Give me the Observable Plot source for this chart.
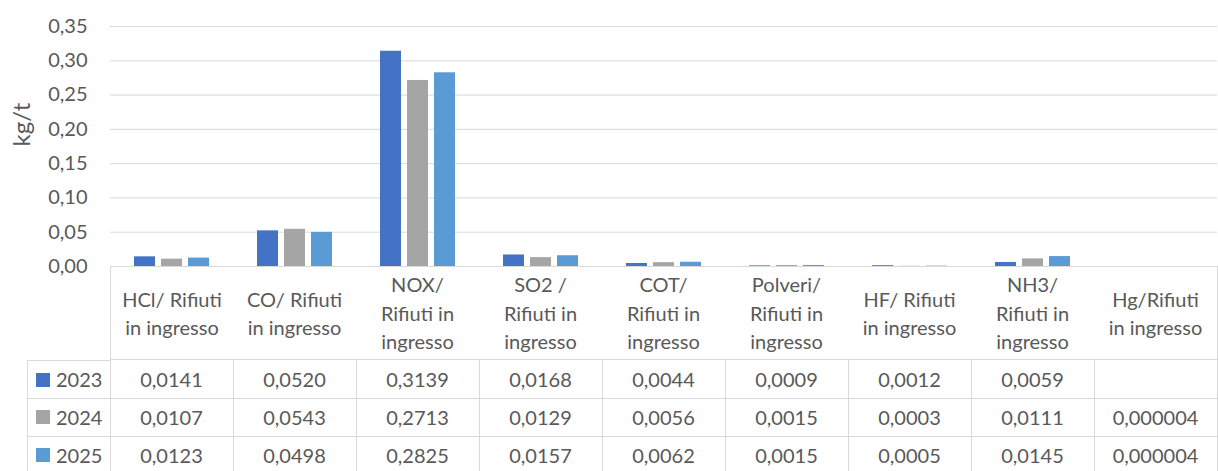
<!DOCTYPE html>
<html><head><meta charset="utf-8">
<script src="https://cdn.jsdelivr.net/npm/d3@7"></script>
<script src="https://cdn.jsdelivr.net/npm/@observablehq/plot@0.6"></script>
<style>
body{margin:0;background:#fff;overflow:hidden}
#wrap{position:relative;width:1218px;height:471px;overflow:hidden;font-family:Lato, sans-serif;color:#595959;font-size:20px}
#wrap svg{position:absolute;left:0;top:0}
.c{position:absolute;box-sizing:border-box;display:flex;align-items:center;justify-content:center;text-align:center;border:0 solid #d9d9d9;border-right-width:1px;border-bottom-width:1px;white-space:pre-line;line-height:28.5px}
.lg{justify-content:flex-start;padding-left:8px;border-left-width:1px}
.sw{display:inline-block;width:14px;height:14px;margin-right:6px}
</style></head><body><div id="wrap"></div>
<script>
const categories = ["HCl/ Rifiuti\nin ingresso", "CO/ Rifiuti\nin ingresso", "NOX/\nRifiuti in\ningresso", "SO2 /\nRifiuti in\ningresso", "COT/\nRifiuti in\ningresso", "Polveri/\nRifiuti in\ningresso", "HF/ Rifiuti\nin ingresso", "NH3/\nRifiuti in\ningresso", "Hg/Rifiuti\nin ingresso"];
const years = ["2023", "2024", "2025"];
const colors = ["#4472C4", "#A5A5A5", "#5B9BD5"];
const values2023 = [0.0141, 0.0520, 0.3139, 0.0168, 0.0044, 0.0009, 0.0012, 0.0059, null];
const values2024 = [0.0107, 0.0543, 0.2713, 0.0129, 0.0056, 0.0015, 0.0003, 0.0111, 0.000004];
const values2025 = [0.0123, 0.0498, 0.2825, 0.0157, 0.0062, 0.0015, 0.0005, 0.0145, 0.000004];
const yTicks = [0, 0.05, 0.10, 0.15, 0.20, 0.25, 0.30, 0.35];
const yLabel = "kg/t";

const series = [values2023, values2024, values2025];
const rows = years.flatMap((y, i) => series[i].map((v, j) => ({cat: categories[j], year: y, value: v})))
  .filter(d => d.value != null);
const fmt = d => d == null ? "" : (d < 0.0001 ? d.toFixed(6) : d.toFixed(4)).replace(".", ",");

const chart = Plot.plot({
  width: 1218, height: 290,
  marginLeft: 109, marginRight: 0, marginTop: 26, marginBottom: 24,
  style: {fontFamily: "Lato, sans-serif", fontSize: "20px", color: "#595959", background: "transparent"},
  fx: {domain: categories, padding: 0, axis: null},
  x: {domain: years, paddingInner: 0.22, paddingOuter: 0.85, axis: null},
  y: {domain: [0, 0.35]},
  color: {domain: years, range: colors},
  marks: [
    Plot.gridY(yTicks, {stroke: "#d9d9d9", strokeOpacity: 1, strokeWidth: 1}),
    Plot.barY(rows, {fx: "cat", x: "year", y: "value", fill: "year"}),
    Plot.axisY(yTicks, {tickSize: 0, tickPadding: 23, tickFormat: d => d.toFixed(2).replace(".", ","), label: null}),
    Plot.text([yLabel], {fx: () => categories[0], text: d => d, frameAnchor: "left", rotate: -90, dx: -88, fontSize: 24, fill: "#595959"})
  ]
});
const wrap = document.getElementById("wrap");
wrap.appendChild(chart);

// data table aligned with the fx scale
const fx = chart.scale("fx");
const y0 = chart.scale("y").apply(0);
const headerH = 94, rowH = 38;
function cell(left, top, w, h, html, cls) {
  const d = document.createElement("div");
  d.className = "c" + (cls ? " " + cls : "");
  Object.assign(d.style, {left: left + "px", top: top + "px", width: w + "px", height: h + "px"});
  d.innerHTML = html;
  wrap.appendChild(d);
  return d;
}
categories.forEach((c, j) => {
  const left = fx.apply(c);
  const w = fx.bandwidth + 1;
  const hc = cell(left, y0, w, headerH, "");
  hc.textContent = c;
  hc.style.borderTopWidth = "1px";
  hc.style.background = "#fff";
  if (j === 0) hc.style.borderLeftWidth = "1px";
  years.forEach((y, i) => {
    cell(left, y0 + headerH + i * rowH, w, rowH + 1, fmt(series[i][j]));
  });
});
const lgLeft = 27, lgW = fx.apply(categories[0]) - 27 + 1;
years.forEach((y, i) => {
  const d = cell(lgLeft, y0 + headerH + i * rowH, lgW, rowH + 1,
    `<span class="sw" style="background:${colors[i]}"></span>${y}`, "lg");
  if (i === 0) d.style.borderTopWidth = "1px";
});
</script></body></html>
